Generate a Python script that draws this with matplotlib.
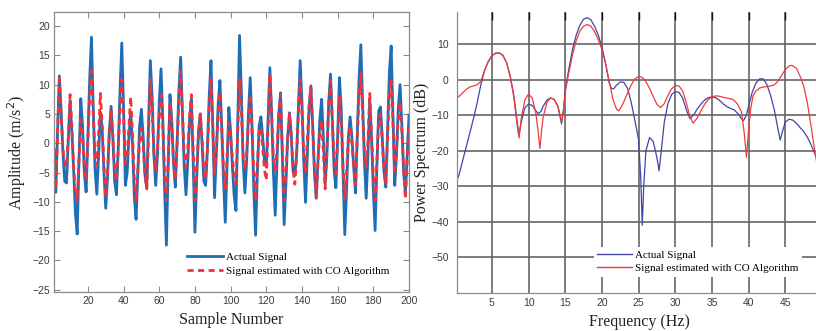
import numpy as np
import matplotlib
matplotlib.use("Agg")
import matplotlib.pyplot as plt

# ---------------- data: left panel (time domain) ----------------
sample_number = list(range(1, 201))
actual_signal = [
    -1.0, -8.4, 2.0, 11.5, 5.5, -1.5, -6.5, -6.8, 0.5, 7.3,
    2.0, -4.5, -12.0, -15.5, -3.0, 7.6, 3.0, -5.0, -8.3, 1.0,
    11.0, 18.1, 6.0, -4.5, -8.7, -2.0, 5.3, 2.5, -5.0, -11.1,
    -6.0, 2.0, 6.3, 1.0, -6.5, -8.8, -1.0, 9.0, 17.1, 6.0,
    -7.2, -5.0, 1.0, 5.3, 0.0, -9.0, -13.0, -5.0, 3.0, 5.8,
    1.0, -5.5, -7.5, 3.0, 14.1, 8.0, -2.0, -7.2, -2.0, 7.0,
    12.7, 4.0, -8.0, -17.4, -4.0, 8.3, 4.0, -3.5, -7.5, 0.0,
    9.0, 14.7, 5.0, -4.0, -8.8, -3.0, 4.0, 7.5, -3.0, -15.2,
    -6.0, 2.0, 5.0, 0.0, -6.5, -7.2, -1.0, 8.0, 14.1, 3.0,
    -9.3, -2.0, 6.5, 10.7, 3.0, -6.0, -13.5, -4.0, 6.1, 2.0,
    -4.0, -9.0, -11.5, 3.0, 18.4, 9.0, -3.0, -8.5, -3.0, 5.0,
    11.2, 3.0, -8.0, -15.7, -5.0, 3.0, 4.5, 1.0, -3.0, -4.0,
    4.0, 12.9, 5.0, -5.0, -12.3, -3.0, 5.0, 8.6, -2.0, -13.9,
    -7.0, 1.0, 5.2, 1.5, -4.8, -5.5, -2.0, 6.0, 14.1, 7.0,
    -3.0, -10.1, -2.0, 6.0, 9.8, 3.0, -5.0, -9.4, -3.0, 4.0,
    7.5, 1.0, -6.9, -2.0, 7.0, 11.8, 4.0, -4.5, -7.6, 1.0,
    11.2, 6.0, -5.0, -15.6, -8.0, 1.0, 4.5, 1.0, -4.0, -8.5,
    1.0, 11.0, 16.8, 7.0, -3.0, -9.4, -2.0, 7.5, 1.0, -8.0,
    -14.9, -4.0, 5.5, 6.2, 1.0, -5.0, -7.5, 2.0, 12.0, 16.6,
    5.0, -7.2, -2.0, 6.0, 10.0, 3.0, -5.0, -8.6, -2.0, 4.8,
]
estimated_signal = [
    -1.0, -7.8, 2.0, 11.0, 5.0, -1.0, -3.5, -4.0, 1.0, 8.3,
    3.0, -4.0, -8.5, -9.8, -3.0, 4.0, 1.5, -4.0, -6.3, 1.0,
    8.0, 12.3, 5.0, -2.0, -3.8, 1.5, 8.5, 3.0, -4.0, -9.2,
    -5.0, 1.5, 5.5, 1.0, -4.5, -6.4, -1.0, 6.0, 10.9, 4.5,
    -3.5, -2.5, 3.0, 7.9, 1.5, -6.0, -9.8, -4.5, 0.5, 2.5,
    -0.5, -5.5, -7.8, 1.5, 10.9, 6.0, -1.5, -4.6, -1.0, 4.5,
    8.3, 3.0, -5.5, -9.8, -3.0, 7.0, 3.0, -3.0, -6.1, 0.0,
    7.0, 12.3, 5.0, -2.0, -4.1, -1.0, 4.5, 8.3, -1.0, -9.8,
    -4.5, 1.5, 5.0, 0.5, -4.5, -6.1, -1.0, 6.0, 10.9, 3.0,
    -5.2, -1.0, 5.0, 8.6, 2.5, -4.0, -8.0, -2.5, 3.5, 1.0,
    -2.5, -5.5, -6.9, 2.0, 10.9, 5.5, -2.0, -4.6, -1.5, 4.0,
    8.3, 2.0, -5.0, -9.8, -3.5, 2.0, 2.7, -1.0, -4.5, -6.3,
    3.0, 11.8, 4.5, -2.5, -4.6, -1.0, 5.0, 8.3, -1.5, -9.8,
    -5.0, 1.0, 5.0, 1.0, -4.5, -7.0, -2.0, 5.0, 10.9, 5.0,
    -1.5, -5.0, 0.5, 6.5, 9.5, 3.0, -4.5, -9.2, -3.0, 2.0,
    3.8, -1.5, -7.8, -1.0, 6.5, 10.6, 4.0, -2.5, -5.2, 0.5,
    8.2, 4.0, -4.0, -9.8, -5.0, 0.5, 3.0, 0.0, -4.0, -7.2,
    1.0, 8.0, 12.0, 5.0, -1.5, -4.1, 0.5, 8.5, 1.5, -5.5,
    -9.8, -3.0, 4.0, 5.0, 0.5, -4.5, -6.9, 1.0, 8.0, 10.9,
    3.5, -5.2, -1.0, 4.5, 7.0, 2.0, -4.5, -9.5, -3.0, 3.0,
]

# ---------------- data: right panel (power spectrum) ----------------
freq_actual = [
    0.0, 0.5, 1.0, 1.5, 2.0, 2.5, 3.0, 3.5, 4.0, 4.5, 5.0, 5.5, 6.0, 6.5,
    7.0, 7.5, 8.0, 8.4, 8.7, 9.0, 9.5, 10.0, 10.5, 11.0, 11.3, 11.7, 12.0,
    12.5, 13.0, 13.5, 14.0, 14.3, 14.5, 14.8, 15.0, 15.5, 16.0, 16.5, 17.0,
    17.5, 18.0, 18.5, 19.0, 19.5, 20.0, 20.5, 21.0, 21.3, 21.6, 22.0, 22.5,
    23.0, 23.5, 24.0, 24.5, 25.0, 25.3, 25.5, 25.7, 26.0, 26.5, 27.0, 27.5,
    27.8, 28.1, 28.5, 29.0, 29.5, 30.0, 30.5, 31.0, 31.5, 32.0, 32.5, 33.0,
    33.5, 34.0, 34.5, 35.0, 35.5, 36.0, 36.5, 37.0, 37.5, 38.0, 38.5, 39.0,
    39.3, 39.7, 40.0, 40.5, 41.0, 41.5, 42.0, 42.5, 43.0, 43.5, 44.0, 44.3,
    44.7, 45.0, 45.5, 46.0, 46.5, 47.0, 47.5, 48.0, 48.5, 49.0, 49.5, 50.0,
]
power_actual = [
    -29.5, -27.0, -23.0, -19.0, -15.0, -11.0, -6.5, -1.5, 2.5, 5.0, 6.7, 7.4, 7.5, 6.8,
    4.8, 1.0, -4.5, -11.0, -15.8, -12.0, -8.0, -6.9, -7.3, -8.8, -9.6, -9.0, -7.5,
    -5.8, -5.2, -5.6, -7.5, -10.5, -12.5, -8.0, -3.0, 3.0, 8.5, 12.5, 15.3,
    17.0, 17.4, 16.8, 15.0, 12.5, 9.2, 4.5, -1.0, -2.5, -2.6, -1.6, -0.7,
    -0.8, -2.5, -6.5, -11.5, -17.0, -28.0, -41.0, -30.0, -20.0, -16.3, -17.5, -22.0,
    -25.7, -20.0, -12.0, -6.8, -4.2, -3.4, -3.6, -5.2, -8.5, -11.0, -10.0, -8.3,
    -6.9, -5.8, -5.1, -4.9, -5.1, -5.8, -6.8, -7.6, -8.1, -8.5, -9.5, -11.0,
    -11.6, -10.0, -7.5, -3.5, -1.0, 0.2, 0.2, -1.5, -4.5, -8.5, -14.0, -17.0,
    -14.0, -12.0, -11.2, -11.4, -12.3, -13.5, -14.6, -16.2, -18.3, -20.8, -23.0, -25.5,
]
freq_est = [
    0.0, 0.5, 1.0, 1.5, 2.0, 2.5, 3.0, 3.5, 4.0, 4.5, 5.0, 5.5, 6.0, 6.5,
    7.0, 7.5, 8.0, 8.4, 8.7, 9.0, 9.5, 10.0, 10.5, 11.0, 11.3, 11.55, 11.8,
    12.0, 12.5, 13.0, 13.5, 14.0, 14.3, 14.5, 14.8, 15.0, 15.5, 16.0, 16.5,
    17.0, 17.5, 18.0, 18.5, 19.0, 19.5, 20.0, 20.5, 21.0, 21.5, 22.0, 22.3,
    22.7, 23.0, 23.5, 24.0, 24.5, 25.0, 25.5, 26.0, 26.5, 27.0, 27.5, 28.0,
    28.5, 29.0, 29.5, 30.0, 30.5, 31.0, 31.5, 32.0, 32.45, 33.0, 33.5, 34.0,
    34.5, 35.0, 35.5, 36.0, 36.5, 37.0, 37.5, 38.0, 38.5, 39.0, 39.4, 39.7,
    40.0, 40.3, 40.6, 41.0, 41.5, 42.0, 42.5, 43.0, 43.5, 44.0, 44.5, 45.0,
    45.5, 45.9, 46.5, 47.0, 47.5, 48.0, 48.5, 49.0, 49.5, 50.0,
]
power_est = [
    -5.5, -4.8, -3.8, -2.8, -2.1, -1.8, -1.5, -0.5, 2.5, 5.0, 6.7, 7.4, 7.5, 6.8,
    4.8, 0.8, -5.0, -12.0, -16.5, -11.0, -5.8, -4.1, -5.2, -9.5, -14.5, -19.4, -14.0,
    -10.5, -6.5, -5.2, -5.6, -7.5, -10.0, -12.0, -8.0, -3.5, 2.0, 7.0, 11.0,
    13.6, 15.0, 15.5, 15.0, 13.5, 11.2, 8.5, 4.5, -0.5, -5.5, -8.4, -8.8,
    -7.5, -6.2, -3.8, -1.5, 0.2, 0.8, 0.6, -0.6, -2.5, -4.8, -7.0, -7.9,
    -6.8, -4.5, -2.6, -1.7, -1.8, -3.2, -6.5, -10.5, -12.3, -10.8, -8.8, -7.0,
    -5.6, -4.9, -4.6, -4.7, -5.0, -5.2, -5.4, -5.8, -7.0, -9.0, -15.0, -21.9,
    -14.0, -8.0, -4.6, -3.2, -2.4, -2.1, -2.0, -1.8, -1.5, -0.5, 1.2, 2.8,
    3.8, 4.0, 3.2, 1.0, -1.8, -6.5, -13.0, -20.0, -26.0, -31.0,
]

left_xticks = [20, 40, 60, 80, 100, 120, 140, 160, 180, 200]
left_yticks = [-25, -20, -15, -10, -5, 0, 5, 10, 15, 20]
right_xticks = [5, 10, 15, 20, 25, 30, 35, 40, 45, 50]
right_yticks = [-50, -40, -30, -20, -10, 0, 10]

SERIF = ["Liberation Serif", "DejaVu Serif"]
SANS = ["Liberation Sans", "DejaVu Sans"]
plt.rcParams["font.family"] = SANS

W, H = 816, 331
fig = plt.figure(figsize=(W / 100, H / 100), dpi=100)

def fx(px):
    return px / W

def fy(py):
    return 1 - py / H

tick_color = "#3c3c3c"
spine_color = "#8a8a8a"

# ---------------- left panel ----------------
ax1 = fig.add_axes([fx(54), fy(292), fx(409) - fx(54), fy(12) - fy(292)])
ax1.plot(sample_number, actual_signal, color="#1f6db5", lw=2.0,
         label="Actual Signal", solid_joinstyle="round")
ax1.plot(sample_number, estimated_signal, color="#f0333a", lw=2.0,
         ls=(0, (2.2, 1.6)), label="Signal estimated with CO Algorithm")
ax1.set_xlim(1, 200)
ax1.set_ylim(-25.4, 22.4)
ax1.set_xticks(left_xticks)
ax1.set_yticks(left_yticks)
ax1.tick_params(direction="in", length=4, width=0.8, color=spine_color,
                labelsize=7.5, labelcolor=tick_color, top=True, right=True, pad=3)
for s in ax1.spines.values():
    s.set_color(spine_color)
    s.set_linewidth(0.9)
ax1.set_xlabel("Sample Number", fontfamily=SERIF, fontsize=11.5, color="#222222", labelpad=4)
ax1.set_ylabel("Amplitude (m/s$^2$)", fontfamily=SERIF, fontsize=11.5, color="#222222", labelpad=3)
leg1 = ax1.legend(loc="upper left", bbox_to_anchor=(fx(184), fy(249)),
                  bbox_transform=fig.transFigure, borderaxespad=0,
                  prop={"family": SERIF, "size": 8}, handlelength=3.2,
                  handletextpad=0.25, labelspacing=0.35, borderpad=0.3,
                  frameon=True, fancybox=False)
leg1.get_frame().set_edgecolor("none")
leg1.get_frame().set_facecolor("white")
leg1.get_frame().set_alpha(1)

# ---------------- right panel ----------------
ax2 = fig.add_axes([fx(457), fy(292.7), fx(822) - fx(457), fy(12) - fy(292.7)])
ax2.plot(freq_actual, power_actual, color="#3f46a6", lw=0.9, label="Actual Signal")
ax2.plot(freq_est, power_est, color="#f23b3b", lw=0.9,
         label="Signal estimated with CO Algorithm")
ax2.set_xlim(0.25, 50)
ax2.set_ylim(-60, 19)
ax2.set_xticks(right_xticks)
ax2.set_yticks(right_yticks)
ax2.grid(True, color="#666666", lw=1.2)
ax2.set_axisbelow(True)
ax2.tick_params(axis="x", direction="in", length=6, width=1.0, color="#111111",
                labelsize=7.5, labelcolor=tick_color, top=True, bottom=False, pad=4)
ax2.tick_params(axis="y", direction="in", length=0, labelsize=7.5,
                labelcolor=tick_color, pad=6)
ax2.spines["top"].set_visible(False)
ax2.spines["right"].set_visible(False)
for side in ("left", "bottom"):
    ax2.spines[side].set_color(spine_color)
    ax2.spines[side].set_linewidth(0.9)
ax2.set_xlabel("Frequency (Hz)", fontfamily=SERIF, fontsize=11.5, color="#222222", labelpad=4)
ax2.set_ylabel("Power Spectrum (dB)", fontfamily=SERIF, fontsize=11.5, color="#222222", labelpad=1)
leg2 = ax2.legend(loc="upper left", bbox_to_anchor=(fx(593.5), fy(246.5)),
                  bbox_transform=fig.transFigure, borderaxespad=0,
                  prop={"family": SERIF, "size": 8}, handlelength=3.2,
                  handletextpad=0.25, labelspacing=0.35, borderpad=0.3,
                  frameon=True, fancybox=False)
leg2.get_frame().set_edgecolor("none")
leg2.get_frame().set_facecolor("white")
leg2.get_frame().set_alpha(1)
for line in leg2.get_lines():
    line.set_linewidth(1.0)

fig.savefig("out.png", dpi=100)
